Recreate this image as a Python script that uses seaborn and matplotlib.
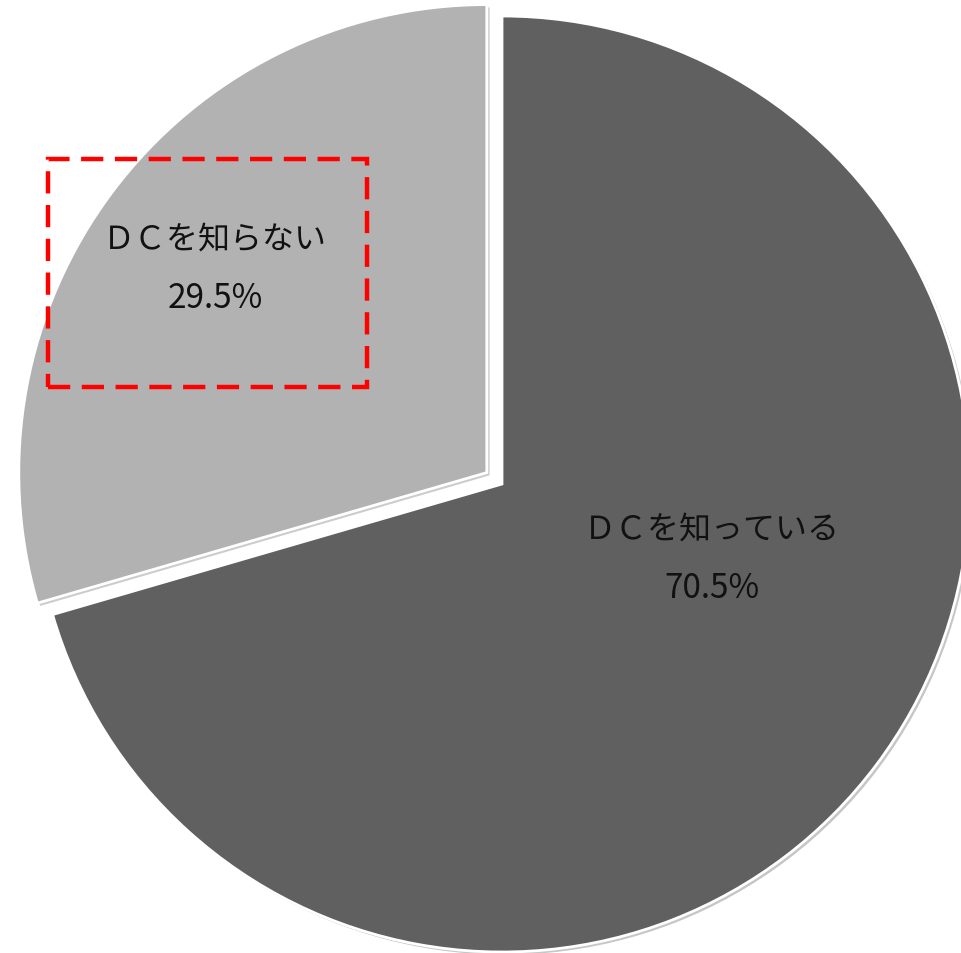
import matplotlib
matplotlib.use("Agg")
import matplotlib.pyplot as plt
import matplotlib.patheffects as pe
from matplotlib.patches import Rectangle
import seaborn as sns

labels = ["ＤＣを知っている", "ＤＣを知らない"]
shares = [70.5, 29.5]
colors = ["#606060", "#b2b2b2"]

sns.set_theme(style="white")
plt.rcParams["font.family"] = ["Noto Sans CJK JP", "DejaVu Sans"]

fig = plt.figure(figsize=(9.61, 9.54), dpi=100)
ax = fig.add_axes([0, 0, 1, 1])

# explode is in data units (pixels here)
wedges, _ = ax.pie(shares, colors=colors, startangle=90, counterclock=False,
                   explode=[0, 19], radius=468, center=(502, 469),
                   wedgeprops=dict(edgecolor="white", linewidth=2))
for w in wedges:
    w.set_path_effects([pe.SimplePatchShadow(offset=(2, -2), alpha=0.25),
                        pe.Normal()])

# label positions (pixels, y up)
label_pos = [(712, 424, 366), (215, 714, 656)]
for (x, y1, y2), lab, v in zip(label_pos, labels, shares):
    ax.text(x, y1, lab, ha="center", va="center", fontsize=23, color="#111111")
    ax.text(x, y2, f"{v:.1f}%", ha="center", va="center", fontsize=24,
            color="#111111")

ax.add_patch(Rectangle((48, 566), 319, 228, fill=False, edgecolor="#ff0000",
                       linewidth=3.2, linestyle=(0, (5, 2.6))))

ax.set_xlim(0, 961)
ax.set_ylim(0, 954)
ax.set_aspect("equal")
ax.axis("off")
fig.savefig("out.png", dpi=100)
